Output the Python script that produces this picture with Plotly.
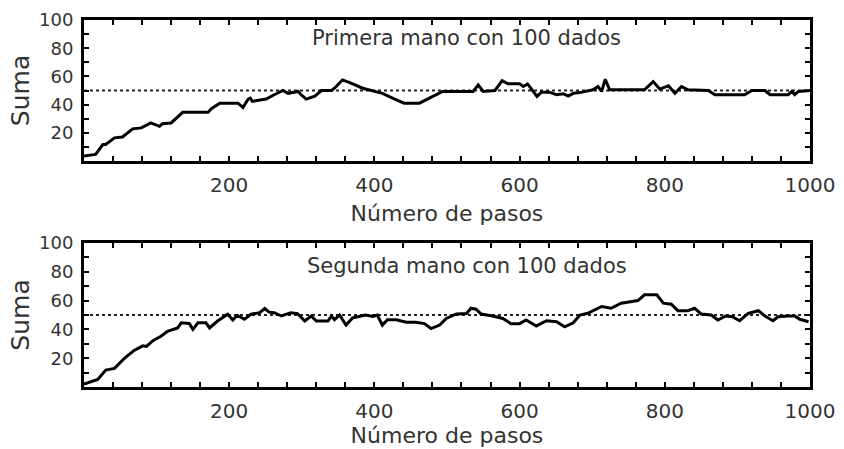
import plotly.graph_objects as go

# Primera mano: pasos y suma de dados
pasos_1 = [0, 16, 26, 30, 42, 53, 67, 79, 92, 104, 108, 120, 136, 171, 175, 187,
           212, 219, 226, 229, 232, 251, 262, 274, 281, 295, 299, 306, 318, 327,
           341, 345, 356, 366, 384, 398, 411, 428, 441, 462, 474, 485, 494, 536,
           543, 550, 566, 576, 584, 600, 605, 611, 618, 624, 630, 641, 651, 660,
           667, 674, 683, 690, 701, 708, 713, 718, 724, 772, 784, 793, 805, 814,
           823, 832, 860, 869, 910, 920, 938, 945, 970, 975, 979, 984, 998, 1000]
suma_1 = [3.5, 4.7, 11.7, 11.7, 16.4, 17, 22.8, 23.5, 27, 24.6, 26.5, 27, 34.5,
          34.5, 36.9, 41, 41, 38, 43.9, 44.6, 42.3, 43.9, 47, 50, 48, 49.3, 47,
          43.9, 46, 50, 50, 51.6, 57.5, 55.6, 51.6, 50, 48, 43.9, 41, 41, 43.9,
          47, 49.3, 49.3, 54, 49.3, 50, 57, 54.7, 54.7, 52.8, 54.7, 50, 45.8,
          48.8, 48.8, 47, 47.7, 46, 48, 48.5, 49.3, 50.5, 52.8, 49.3, 58, 50.5,
          50.5, 56.3, 51, 53.3, 48, 52.8, 50.5, 50, 47, 47, 50, 50, 47, 47, 49.3,
          47, 49.3, 50, 50]

# Segunda mano: pasos y suma de dados
pasos_2 = [0, 9, 19, 30, 42, 56, 69, 81, 86, 95, 106, 115, 129, 134, 145, 150,
           157, 168, 173, 184, 194, 198, 205, 211, 221, 230, 242, 249, 255, 262,
           272, 285, 294, 304, 313, 320, 336, 341, 345, 352, 361, 370, 379, 388,
           398, 404, 411, 418, 430, 444, 457, 469, 478, 490, 499, 513, 527, 533,
           540, 547, 563, 577, 588, 600, 609, 623, 637, 651, 662, 674, 683, 694,
           713, 726, 740, 754, 763, 772, 789, 798, 809, 818, 832, 841, 850, 864,
           873, 884, 893, 903, 915, 929, 938, 949, 956, 970, 979, 986, 998]
suma_2 = [2, 3.5, 5.2, 11.7, 12.9, 20, 25.4, 28.6, 28.2, 32.2, 35.2, 38.7, 41,
          44.6, 44.1, 40, 44.6, 44.6, 41, 45.8, 49.3, 50.5, 46.5, 49.8, 47, 50.5,
          51.6, 54.5, 52, 51.6, 49.3, 51.6, 51, 45.8, 49.3, 45.8, 45.8, 49.3,
          46.7, 50, 43, 48, 49, 50, 49, 50, 43, 46.7, 46.7, 45, 45, 44, 40.6, 43,
          47.6, 50.7, 51, 54.7, 54, 50.7, 49.3, 47.6, 44, 44, 46.5, 42.3, 46,
          45.3, 41.8, 44.6, 50, 51.2, 55.9, 54.7, 58.2, 59.4, 60, 64, 64, 58.2,
          57.5, 53, 53, 54.7, 50.7, 50, 46.5, 49.3, 48.8, 46, 51.2, 53, 49.3, 46,
          48.8, 49.3, 49.3, 47, 45.3]

# Valor medio esperado (100 dados, probabilidad 1/2)
media = 50
rango_pasos = [0, 1000]

titulos = ["Primera mano con 100 dados", "Segunda mano con 100 dados"]
x_ticks = [200, 400, 600, 800, 1000]
y_ticks = [20, 40, 60, 80, 100]

FONT = "DejaVu Sans"
GRIS = "#333333"

fig = go.Figure()

series = [(pasos_1, suma_1, "x", "y"), (pasos_2, suma_2, "x2", "y2")]
for px, sy, xa, ya in series:
    fig.add_trace(go.Scatter(x=rango_pasos, y=[media, media], xaxis=xa, yaxis=ya,
                             mode="lines", line=dict(color="#222222", width=2.2, dash="dot"),
                             hoverinfo="skip", showlegend=False))
    fig.add_trace(go.Scatter(x=px, y=sy, xaxis=xa, yaxis=ya, mode="lines",
                             line=dict(color="black", width=3), showlegend=False))


def eje_x(dom_anchor, standoff):
    return dict(range=rango_pasos, domain=[0.0995, 0.9597], anchor=dom_anchor,
                automargin=False,
                showline=True, linecolor="black", linewidth=3, mirror="ticks",
                ticks="inside", ticklen=5, tickwidth=2, tickcolor="black",
                tickvals=x_ticks, showgrid=False, zeroline=False,
                minor=dict(tick0=0, dtick=40, ticks="inside", ticklen=5,
                           tickwidth=2, tickcolor="black", showgrid=False),
                tickfont=dict(family=FONT, size=20, color=GRIS),
                ticklabelstandoff=4,
                title=dict(text="Número de pasos", standoff=standoff,
                           font=dict(family=FONT, size=22, color=GRIS)))


def eje_y(dom, anchor):
    return dict(range=[0, 100], domain=dom, anchor=anchor,
                automargin=False,
                showline=True, linecolor="black", linewidth=3, mirror="ticks",
                ticks="inside", ticklen=5, tickwidth=2, tickcolor="black",
                tickvals=y_ticks, showgrid=False, zeroline=False,
                minor=dict(tick0=0, dtick=10, ticks="inside", ticklen=5,
                           tickwidth=2, tickcolor="black", showgrid=False),
                tickfont=dict(family=FONT, size=18, color=GRIS),
                ticklabelstandoff=4,
                title=dict(text="Suma", standoff=3,
                           font=dict(family=FONT, size=25, color=GRIS)))


fig.update_layout(
    width=844, height=449,
    margin=dict(l=0, r=0, t=0, b=0, autoexpand=False),
    paper_bgcolor="white", plot_bgcolor="white",
    xaxis=eje_x("y", 10), yaxis=eje_y([0.6414, 0.9555], "x"),
    xaxis2=eje_x("y2", 5), yaxis2=eje_y([0.1381, 0.4588], "x2"),
    annotations=[
        dict(text=titulos[0], x=527, y=87, xref="x", yref="y", showarrow=False,
             font=dict(family=FONT, size=21, color=GRIS)),
        dict(text=titulos[1], x=527, y=84, xref="x2", yref="y2", showarrow=False,
             font=dict(family=FONT, size=21, color=GRIS)),
    ],
)

fig.write_html("out.html")
